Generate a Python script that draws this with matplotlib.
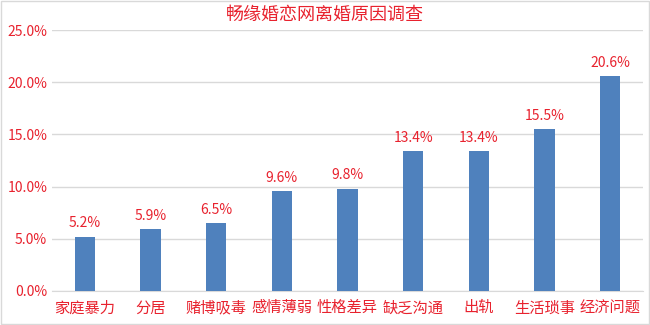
import matplotlib.pyplot as plt
from matplotlib.ticker import FuncFormatter
from matplotlib.patches import Rectangle

plt.rcParams['font.family'] = ['Noto Sans CJK SC', 'DejaVu Sans']

reasons = ['家庭暴力', '分居', '赌博吸毒', '感情薄弱', '性格差异',
           '缺乏沟通', '出轨', '生活琐事', '经济问题']
shares = [5.2, 5.9, 6.5, 9.6, 9.8, 13.4, 13.4, 15.5, 20.6]

red = '#E8222E'
blue = '#4F81BD'

fig = plt.figure(figsize=(6.5, 3.25), dpi=100)
ax = fig.add_axes([52 / 650, 34 / 325, 591 / 650, 261 / 325])

x = range(len(reasons))
ax.bar(x, shares, width=0.31, color=blue, zorder=3)
for xi, v in zip(x, shares):
    ax.text(xi, v + 0.6, f'{v:.1f}%', ha='center', va='bottom',
            color=red, fontsize=10)

ax.set_xlim(-0.5, len(reasons) - 0.5)
ax.set_ylim(0, 25)
ax.set_yticks([0, 5, 10, 15, 20, 25])
ax.yaxis.set_major_formatter(FuncFormatter(lambda v, p: f'{v:.1f}%'))
ax.set_xticks(list(x))
ax.set_xticklabels(reasons)
ax.tick_params(axis='both', length=0, colors=red, labelsize=10)
ax.tick_params(axis='x', pad=6, labelsize=11)
ax.grid(axis='y', color='#D9D9D9', linewidth=1, zorder=0)
for s in ['top', 'right', 'left']:
    ax.spines[s].set_visible(False)
ax.spines['bottom'].set_color('#D9D9D9')

fig.text(0.5, 0.955, '畅缘婚恋网离婚原因调查', ha='center', va='center',
         color=red, fontsize=13)
fig.patches.append(Rectangle((0.001, 0.002), 0.997, 0.995, transform=fig.transFigure,
                             fill=False, edgecolor='#D9D9D9', linewidth=1))

fig.savefig('out.png', dpi=100)
